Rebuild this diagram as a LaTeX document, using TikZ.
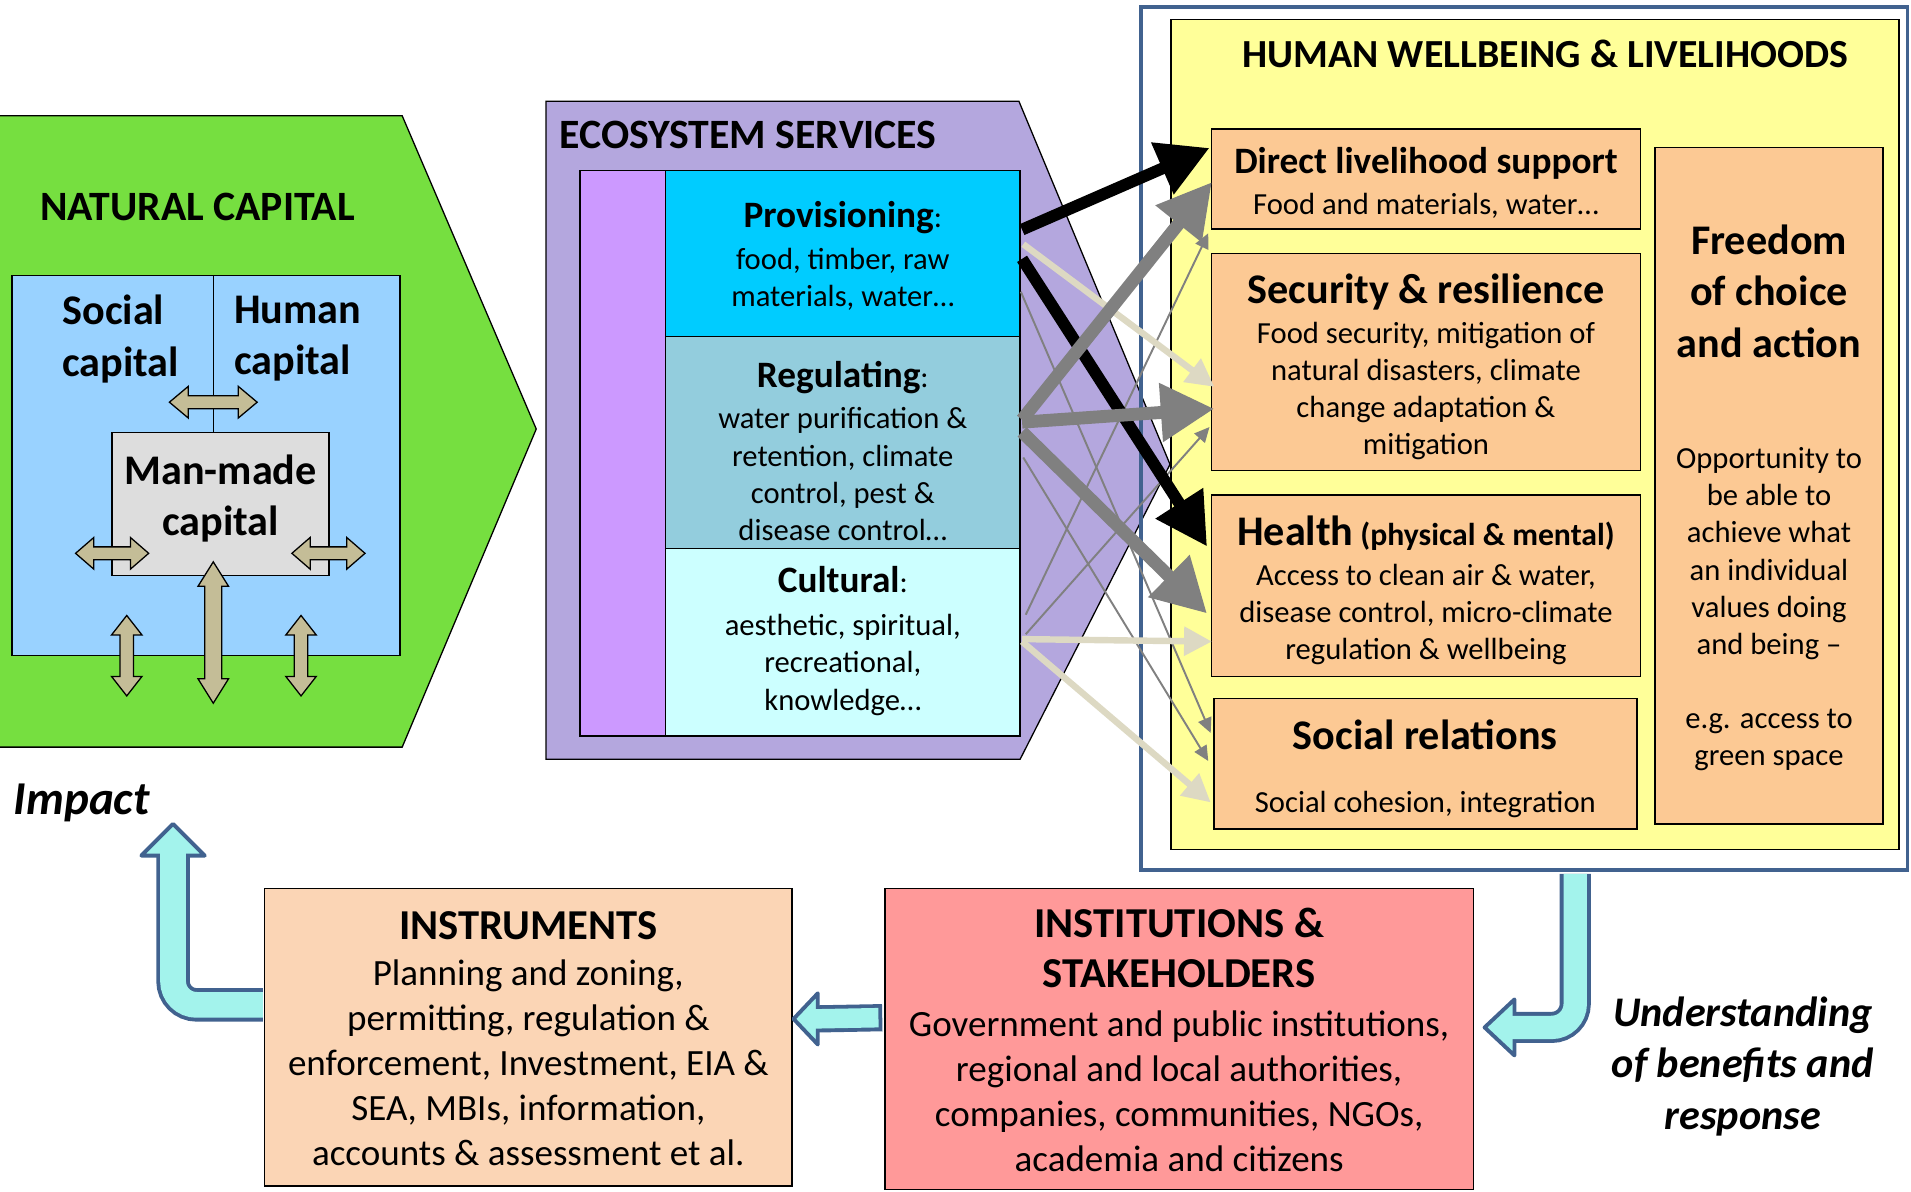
\documentclass[tikz,border=0pt]{standalone}
\usepackage{fontspec}
\setmainfont{Carlito}
\usetikzlibrary{arrows.meta,fit,calc}

\definecolor{natgreen}{RGB}{118,223,64}
\definecolor{capblue}{RGB}{153,210,255}
\definecolor{mmgray}{RGB}{221,221,221}
\definecolor{tanarrow}{RGB}{196,189,151}
\definecolor{ecopurple}{RGB}{180,167,222}
\definecolor{stripviolet}{RGB}{204,153,255}
\definecolor{provblue}{RGB}{0,204,255}
\definecolor{regblue}{RGB}{147,205,221}
\definecolor{cultblue}{RGB}{204,255,255}
\definecolor{wbyellow}{RGB}{255,255,153}
\definecolor{wborange}{RGB}{252,201,148}
\definecolor{instrpeach}{RGB}{251,213,181}
\definecolor{stakered}{RGB}{255,153,153}
\definecolor{aquafill}{RGB}{163,243,236}
\definecolor{bandblue}{RGB}{65,98,143}
\definecolor{arrgray}{RGB}{128,128,128}
\definecolor{arrbeige}{RGB}{221,217,195}

% font sizes
\newcommand{\secfont}{\fontsize{19.5}{23.8}\selectfont\bfseries}
\newcommand{\bigtitle}{\fontsize{19.7}{24}\selectfont\bfseries}
\newcommand{\midtitle}{\fontsize{17.4}{21}\selectfont\bfseries}
\newcommand{\smalltext}{\fontsize{14.3}{17.4}\selectfont}
\newcommand{\lowtitle}{\fontsize{19.9}{23.3}\selectfont\bfseries}
\newcommand{\lowtext}{\fontsize{17.3}{21}\selectfont}

% tan double arrow: x, y, half length, angle, half shaft, half head, head length
\newcommand{\dblarrow}[7]{%
  \draw[tanarr, shift={(#1,#2)}, rotate=#4]
    (-#3,0) -- (-#3+#7,#6) -- (-#3+#7,#5) -- (#3-#7,#5) -- (#3-#7,#6) -- (#3,0)
    -- (#3-#7,-#6) -- (#3-#7,-#5) -- (-#3+#7,-#5) -- (-#3+#7,-#6) -- cycle;}

\begin{document}
\begin{tikzpicture}[x=0.2mm, y=-0.2mm,
    box/.style={draw, line width=0.7pt, inner sep=0pt},
    boxtext/.style={font=\smalltext, align=center},
    tanarr/.style={draw, line width=0.6pt, fill=tanarrow},
    blackarr/.style={draw=black, line width=5.5pt, -{Triangle[length=24pt,width=25pt]}},
    grayarr/.style={draw=arrgray, line width=6pt, -{Triangle[length=25pt,width=26pt]}},
    beigearr/.style={draw=arrbeige, line width=3pt, -{Triangle[length=13pt,width=13pt]}},
    thinarr/.style={draw=arrgray, line width=0.9pt, -{Triangle[length=7pt,width=6.5pt]}},
    bandedge/.style={draw=bandblue, line width=#1},
    bandfill/.style={draw=aquafill, line width=#1},
    bandhead/.style={draw=bandblue, fill=aquafill, line width=1.8pt, line join=round}]

\useasboundingbox (0,0) rectangle (1568,978);

% natural capital
\draw[fill=natgreen, line width=0.6pt] (-5,95) -- (330,95) -- (440,352) -- (330,613) -- (-5,613) -- cycle;
\node[font=\secfont] (natcap) at (162,170) {NATURAL CAPITAL};
\node[box, fill=capblue, fit={(10,226) (328,538)}] (capitals) {};
\draw[line width=0.7pt] (175,226) -- (175,355);
\node[box, fill=mmgray, fit={(92,355) (270,472)}] (manmade) {};
\node[font=\bigtitle, align=left, anchor=west] (social) at (45,278) {Social\\capital};
\node[font=\bigtitle, align=left, anchor=west] (human) at (186,278) {Human\\capital};
\node[font=\bigtitle, align=center] (mmtext) at (181,409) {Man-made\\capital};
\dblarrow{175}{330}{36}{0}{5.3}{13}{15.5}
\dblarrow{92}{454}{30}{0}{5.3}{13}{15}
\dblarrow{269.5}{454}{30}{0}{5.3}{13}{15}
\dblarrow{175}{519}{58}{90}{7}{12.5}{20}
\dblarrow{104}{538}{33}{90}{5.5}{12.5}{16}
\dblarrow{247}{538}{33}{90}{5.5}{12.5}{16}

% ecosystem services
\draw[fill=ecopurple, line width=0.6pt] (448,83) -- (836,83) -- (960,381) -- (837,623) -- (448,623) -- cycle;
\node[font=\secfont, anchor=west] (ecotitle) at (453,111) {ECOSYSTEM SERVICES};
\node[box, fill=stripviolet, fit={(476,140) (546,604)}] (strip) {};
\node[box, fill=provblue, fit={(546,140) (837,276)}] (prov) {};
\node[box, fill=regblue, fit={(546,276) (837,450)}] (reg) {};
\node[box, fill=cultblue, fit={(546,450) (837,604)}] (cult) {};
\node[boxtext] (provtext) at ($(prov.center)+(0,2)$)
  {{\midtitle Provisioning}:\\[2pt] food, timber, raw\\ materials, water…};
\node[boxtext] (regtext) at ($(reg.center)+(0,7)$)
  {{\midtitle Regulating}:\\[2pt] water purification \&\\ retention, climate\\ control, pest \&\\ disease control…};
\node[boxtext] (culttext) at ($(cult.center)+(0,-1)$)
  {{\midtitle Cultural}:\\[2.5pt] aesthetic, spiritual,\\ recreational,\\ knowledge…};

% human wellbeing
\node[draw=bandblue, line width=1.7pt, inner sep=0pt, fit={(936,6) (1565,714)}] (frame) {};
\node[box, fill=wbyellow, fit={(961,16) (1558,697)}] (wellbeing) {};
\node[font=\fontsize{18.6}{22.7}\selectfont\bfseries] (wbtitle) at (1268,44) {HUMAN WELLBEING \& LIVELIHOODS};
\node[box, fill=wborange, fit={(994,106) (1346,188)}] (direct) {};
\node[box, fill=wborange, fit={(994,208) (1346,386)}] (security) {};
\node[box, fill=wborange, fit={(994,406) (1346,555)}] (health) {};
\node[box, fill=wborange, fit={(996,573) (1343,680)}] (socrel) {};
\node[box, fill=wborange, fit={(1358,121) (1545,676)}] (freedom) {};
\node[boxtext] (directtext) at ($(direct.center)+(0,3)$)
  {{\midtitle Direct livelihood support}\\[1.4pt] Food and materials, water…};
\node[boxtext] (securitytext) at ($(security.center)+(0,4)$)
  {{\bigtitle Security \& resilience}\\[1.3pt] Food security, mitigation of\\ natural disasters, climate\\ change adaptation \&\\ mitigation};
\node[boxtext] (healthtext) at ($(health.center)+(0,4)$)
  {{\bigtitle Health} {\fontsize{14.8}{17}\selectfont\bfseries (physical \& mental)}\\[1pt] Access to clean air \& water,\\ disease control, micro-climate\\ regulation \& wellbeing};
\node[boxtext] (socreltext) at ($(socrel.center)+(0,4)$)
  {{\bigtitle Social relations}\\[12pt] Social cohesion, integration};
\node[boxtext] (freedomtext) at ($(freedom.center)+(0,10)$)
  {{\bigtitle Freedom}\\[6.6pt] {\bigtitle of choice}\\[6.6pt] {\bigtitle and action}\\[34.5pt] Opportunity to\\ be able to\\ achieve what\\ an individual\\ values doing\\ and being –\\[17pt] e.g. access to\\ green space};

% services to wellbeing
\draw[thinarr] ($(prov.north east)+(0,100)$) -- ($(socrel.north west)+(-2,29)$);
\draw[thinarr] ($(reg.north east)+(2,100)$) -- ($(socrel.north west)+(-4,52)$);
\draw[thinarr] ($(cult.north east)+(4,55)$) -- ($(direct.north west)+(-2,86)$);
\draw[thinarr] ($(cult.north east)+(4,71)$) -- ($(security.north west)+(-1,143)$);
\draw[beigearr] ($(prov.north east)+(2,61)$) -- ($(security.north west)+(3,110)$);
\draw[beigearr] ($(cult.north east)+(1,75)$) -- ($(health.north west)+(1,121)$);
\draw[beigearr] ($(cult.north east)+(1,77)$) -- ($(socrel.north west)+(-2,86)$);
\draw[blackarr] ($(prov.north east)+(1,49)$) -- ($(direct.north west)+(-1,16)$);
\draw[blackarr] ($(prov.north east)+(1,73)$) -- ($(health.north west)+(-3,43)$);
\draw[grayarr] ($(reg.north east)+(1,69)$) -- ($(direct.north west)+(1,44)$);
\draw[grayarr] ($(reg.north east)+(1,71)$) -- ($(security.north west)+(3,128)$);
\draw[grayarr] ($(reg.north east)+(1,79)$) -- ($(health.north west)+(-3,98)$);

% instruments and institutions
\node[box, fill=instrpeach, fit={(217,729) (650,973)}] (instr) {};
\node[box, fill=stakered, fit={(726,729) (1209,976)}] (stake) {};
\node[boxtext, font=\lowtext] (instrtext) at ($(instr.center)+(0,1)$)
  {{\lowtitle INSTRUMENTS}\\[0.6pt] Planning and zoning,\\ permitting, regulation \&\\ enforcement, Investment, EIA \&\\ SEA, MBIs, information,\\ accounts \& assessment et al.};
\node[boxtext, font=\lowtext] (staketext) at ($(stake.center)+(0,1)$)
  {{\lowtitle INSTITUTIONS \&}\\[2.3pt] {\lowtitle STAKEHOLDERS}\\[1.8pt] Government and public institutions,\\ regional and local authorities,\\ companies, communities, NGOs,\\ academia and citizens};

% feedback arrows
\coordinate (impbase) at (142,702);
\draw[bandedge=15.6pt, rounded corners=11pt] ($(instr.west)+(-0.7,-26.5)$) -| (impbase);
\draw[bandhead] ($(impbase)+(-26,0)$) -- (142,676) -- ($(impbase)+(26,0)$) -- cycle;
\draw[bandfill=12pt, rounded corners=11pt] ($(instr.west)+(-0.7,-26.5)$) -| ($(impbase)+(0,-3)$);

\coordinate (polbase) at (671,836);
\draw[bandedge=12.7pt] ($(stake.west)+(-1.5,-17.5)$) -- (polbase);
\draw[bandhead] ($(polbase)+(0,-21)$) -- ($(instr.east)+(0.5,-15)$) -- ($(polbase)+(0,21)$) -- cycle;
\draw[bandfill=9.1pt] ($(stake.west)+(-4.6,-17.5)$) -- ($(polbase)+(-3,0)$);

\coordinate (wbbase) at ($(stake.east)+(33,-9.5)$);
\draw[bandedge=14.5pt, rounded corners=11pt] ($(frame.south west)+(358,1.5)$) |- (wbbase);
\draw[bandhead] ($(wbbase)+(0,-23)$) -- ($(stake.east)+(8.5,-9.5)$) -- ($(wbbase)+(0,23)$) -- cycle;
\draw[bandfill=10.9pt, rounded corners=11pt] ($(frame.south west)+(358,1.5)$) |- ($(wbbase)+(-3,0)$);

\node[font=\fontsize{22}{26}\selectfont\bfseries\itshape, anchor=west] (impact) at (5,659) {Impact};
\node[font=\fontsize{19.7}{23.9}\selectfont\bfseries\itshape, align=center] (understand) at (1430,875)
  {Understanding\\of benefits and\\response};
\end{tikzpicture}
\end{document}
